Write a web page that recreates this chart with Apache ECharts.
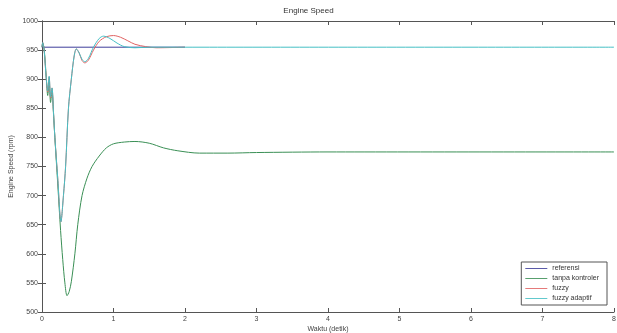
<!DOCTYPE html>
<html>
<head>
<meta charset="utf-8">
<script src="https://cdn.jsdelivr.net/npm/echarts@6/dist/echarts.min.js"></script>
<style>
  html, body { margin: 0; padding: 0; background: #fff; }
  #chart { width: 617px; height: 333px; }
</style>
</head>
<body>
<div id="chart"></div>
<script>
// values
var xTicks = [0, 1, 2, 3, 4, 5, 6, 7, 8];
var yTicks = [500, 550, 600, 650, 700, 750, 800, 850, 900, 950, 1000];

var refTime = [0, 2];
var refSpeed = [955, 955];

var noCtrlTime = [0, 0.01, 0.03, 0.06, 0.08, 0.1, 0.12, 0.14, 0.16, 0.18, 0.22, 0.26, 0.29, 0.32, 0.35, 0.38, 0.41, 0.46, 0.5, 0.56, 0.63, 0.7, 0.8, 0.9, 1.0, 1.15, 1.3, 1.5, 1.7, 1.9, 2.2, 2.6, 3.0, 4, 8];
var noCtrlSpeed = [955, 962, 952, 903, 872, 895, 860, 880, 842, 800, 720, 640, 590, 550, 528, 535, 552, 600, 650, 700, 730, 750, 768, 782, 789, 792, 793, 790, 782, 777, 773, 773, 774, 775, 775];

var fuzzyTime = [0, 0.01, 0.03, 0.06, 0.08, 0.1, 0.12, 0.14, 0.16, 0.18, 0.22, 0.265, 0.3, 0.33, 0.37, 0.41, 0.45, 0.48, 0.52, 0.56, 0.6, 0.65, 0.72, 0.8, 0.9, 1.0, 1.1, 1.2, 1.3, 1.45, 1.6, 2.0];
var fuzzySpeed = [955, 963, 950, 900, 878, 904, 868, 885, 845, 800, 730, 655, 700, 750, 850, 900, 940, 952, 945, 932, 928, 933, 950, 965, 973, 975, 972, 966, 960, 956, 954, 955];

var adaptTime = [0, 0.01, 0.03, 0.06, 0.08, 0.1, 0.12, 0.14, 0.16, 0.18, 0.22, 0.265, 0.3, 0.33, 0.37, 0.41, 0.45, 0.48, 0.52, 0.56, 0.6, 0.65, 0.72, 0.8, 0.86, 0.95, 1.05, 1.15, 1.3, 1.5, 8];
var adaptSpeed = [955, 963, 950, 900, 880, 905, 870, 885, 845, 800, 730, 655, 700, 750, 850, 900, 940, 952, 945, 934, 930, 936, 955, 970, 974, 970, 962, 956, 954, 955, 955];

function pairs(t, v) {
  var out = [];
  for (var i = 0; i < t.length; i++) out.push([t[i], v[i]]);
  return out;
}

var chart = echarts.init(document.getElementById("chart"));
var axisLine = { lineStyle: { color: "#555", width: 1 } };
var tick = { inside: true, length: 4, lineStyle: { color: "#555" } };
var label = { fontSize: 7, color: "#444", fontFamily: "Liberation Sans", margin: 4,
  formatter: function (v) { return String(v); } };

chart.setOption({
  animation: false,
  title: {
    text: "Engine Speed",
    left: "center",
    top: 2,
    textStyle: { fontSize: 8, fontWeight: "normal", color: "#333", fontFamily: "Liberation Sans" }
  },
  grid: { left: 42, right: 3, top: 21, bottom: 21, outerBoundsMode: "none", containLabel: false },
  legend: {
    orient: "vertical",
    right: 10,
    bottom: 28,
    padding: [3, 8, 3, 4],
    itemGap: 3,
    itemWidth: 22,
    itemHeight: 6,
    icon: "path://M0,0 L26,0 L26,1 L0,1 Z",
    backgroundColor: "#fff",
    borderColor: "#555",
    borderWidth: 1,
    borderRadius: 0,
    textStyle: { fontSize: 7, color: "#333", fontFamily: "Liberation Sans" },
    data: ["referensi", "tanpa kontroler", "fuzzy", "fuzzy adaptif"]
  },
  xAxis: [
    {
      type: "value", min: 0, max: 8, interval: 1,
      name: "Waktu (detik)", nameLocation: "middle", nameGap: 14, nameMoveOverlap: false,
      nameTextStyle: { fontSize: 7, color: "#444", fontFamily: "Liberation Sans" },
      axisLine: axisLine, axisTick: tick, axisLabel: label,
      splitLine: { show: false }
    },
    {
      type: "value", min: 0, max: 8, interval: 1, position: "top",
      axisLine: axisLine, axisTick: tick, axisLabel: { show: false },
      splitLine: { show: false }
    }
  ],
  yAxis: [
    {
      type: "value", min: 500, max: 1000, interval: 50,
      name: "Engine Speed (rpm)", nameLocation: "middle", nameGap: 27, nameMoveOverlap: false,
      nameTextStyle: { fontSize: 7, color: "#444", fontFamily: "Liberation Sans" },
      axisLine: axisLine, axisTick: tick, axisLabel: label,
      splitLine: { show: false }
    },
    {
      type: "value", min: 500, max: 1000, interval: 50, position: "right",
      axisLine: axisLine, axisTick: tick, axisLabel: { show: false },
      splitLine: { show: false }
    }
  ],
  series: [
    {
      name: "referensi", type: "line", symbol: "none",
      data: pairs(refTime, refSpeed),
      lineStyle: { color: "#3d3d9a", width: 1 }, itemStyle: { color: "#3d3d9a" }
    },
    {
      name: "tanpa kontroler", type: "line", symbol: "none",
      data: pairs(noCtrlTime, noCtrlSpeed), smooth: 0.3,
      lineStyle: { color: "#3a8f55", width: 1 }, itemStyle: { color: "#3a8f55" }
    },
    {
      name: "fuzzy", type: "line", symbol: "none",
      data: pairs(fuzzyTime, fuzzySpeed), smooth: 0.3,
      lineStyle: { color: "#e06262", width: 1 }, itemStyle: { color: "#e06262" }
    },
    {
      name: "fuzzy adaptif", type: "line", symbol: "none",
      data: pairs(adaptTime, adaptSpeed), smooth: 0.3,
      lineStyle: { color: "#45bfc4", width: 1 }, itemStyle: { color: "#45bfc4" }
    }
  ]
});
</script>
</body>
</html>
